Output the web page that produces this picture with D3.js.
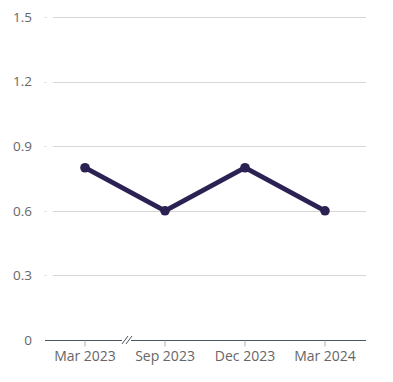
<!DOCTYPE html>
<html><head><meta charset="utf-8">
<script src="https://cdn.jsdelivr.net/npm/d3@7"></script>
<style>body{margin:0;background:#fff}svg{display:block}text{font-family:"Open Sans",sans-serif}</style>
</head><body><svg id="c" width="393" height="382"></svg>
<script>
const categories = ["Mar 2023","Sep 2023","Dec 2023","Mar 2024"];
const values = [0.8,0.6,0.8,0.6];
const yTicks = [0,0.3,0.6,0.9,1.2,1.5];
const yTickLabels = ["0","0.3","0.6","0.9","1.2","1.5"];

const svg = d3.select("#c");
const x = d3.scaleBand().domain(categories).range([45,365]).padding(0);
const y = d3.scaleLinear().domain([0,1.5]).range([340,17]);

// grid
svg.append("g").selectAll("line").data(yTicks.slice(1)).join("line")
  .attr("x1",53).attr("x2",366).attr("y1",d=>Math.round(y(d))+0.5).attr("y2",d=>Math.round(y(d))+0.5)
  .attr("stroke","#d6d6d6").attr("stroke-width",1);
svg.append("g").selectAll("line").data(yTicks.slice(1)).join("line")
  .attr("x1",44.5).attr("x2",46.5).attr("y1",d=>Math.round(y(d))+0.5).attr("y2",d=>Math.round(y(d))+0.5)
  .attr("stroke","#d6d6d6").attr("stroke-width",1);
// y labels
svg.append("g").selectAll("text").data(yTicks).join("text")
  .attr("x",32).attr("y",d=>y(d)).attr("dy","0.35em").attr("text-anchor","end")
  .attr("font-size",13.5).attr("fill","#666").text((d,i)=>yTickLabels[i]);

// x axis
const xa = svg.append("g").attr("transform","translate(0,340.5)")
  .call(d3.axisBottom(x).tickSize(6).tickPadding(5).tickSizeOuter(0));
xa.select(".domain").attr("stroke","#4a5560").attr("d","M45,0H366");
xa.selectAll(".tick line").attr("stroke","#b0b0b0").attr("y1",0).attr("y2",6);
xa.selectAll(".tick text").attr("font-size",14).attr("fill","#666").attr("font-family","Open Sans, sans-serif");
// break mark
const bx = 127;
svg.append("rect").attr("x",bx-5).attr("y",336).attr("width",9).attr("height",8).attr("fill","#fff");
[-2,2].forEach(o=>svg.append("line").attr("x1",bx+o-3).attr("y1",344).attr("x2",bx+o+3).attr("y2",336)
  .attr("stroke","#4a5560").attr("stroke-width",1));

// line
const cx = d=>x(d)+x.bandwidth()/2;
const pts = categories.map((c,i)=>[cx(c),y(values[i])]);
svg.append("path").attr("d",d3.line()(pts)).attr("fill","none")
  .attr("stroke","#2b2152").attr("stroke-width",4.8).attr("stroke-linejoin","round");
svg.append("g").selectAll("circle").data(pts).join("circle")
  .attr("cx",d=>d[0]).attr("cy",d=>d[1]).attr("r",4.8).attr("fill","#2b2152");
</script></body></html>
